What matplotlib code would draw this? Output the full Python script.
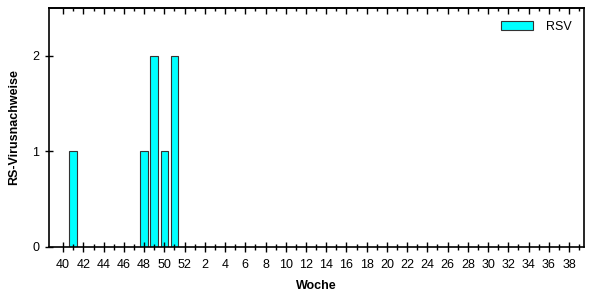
import matplotlib.pyplot as plt
from matplotlib.ticker import FixedLocator

plt.rcParams['font.family'] = ['Liberation Sans', 'DejaVu Sans']

weeks = list(range(40, 53)) + list(range(1, 40))
rsv = [0, 1, 0, 0, 0, 0, 0, 0, 1, 2, 1, 2, 0] + [0] * 39

fig = plt.figure(figsize=(6.02, 3.0), dpi=100)
ax = fig.add_axes([0.0814, 0.177, 0.889, 0.796])

x = list(range(len(weeks)))
ax.bar(x, rsv, width=0.75, color='#00FFFF', edgecolor='#333333', linewidth=0.8, label='RSV')

ax.set_xlim(-1.4, 51.5)
ax.set_ylim(0, 2.5)

major = [i for i, w in enumerate(weeks) if w % 2 == 0]
minor = [i for i, w in enumerate(weeks) if w % 2 == 1]
ax.xaxis.set_major_locator(FixedLocator(major))
ax.xaxis.set_minor_locator(FixedLocator(minor))
ax.set_xticklabels([str(weeks[i]) for i in major])
ax.set_yticks([0, 1, 2])

ax.tick_params(axis='x', which='major', direction='inout', length=7, width=1,
               labelsize=9, pad=5)
ax.tick_params(axis='x', which='minor', direction='inout', length=4, width=1)
ax.tick_params(axis='y', which='major', direction='inout', length=6, width=1,
               labelsize=9, pad=4)

# ticks along the top edge point inwards only
top = ax.secondary_xaxis('top')
top.xaxis.set_major_locator(FixedLocator(major))
top.xaxis.set_minor_locator(FixedLocator(minor))
top.tick_params(which='major', direction='in', length=4, width=1, labeltop=False)
top.tick_params(which='minor', direction='in', length=2, width=1)
top.spines['top'].set_linewidth(1.2)

for s in ax.spines.values():
    s.set_linewidth(1.2)

ax.set_xlabel('Woche', fontsize=9, fontweight='bold', labelpad=7)
ax.set_ylabel('RS-Virusnachweise', fontsize=9, fontweight='bold', labelpad=9)

ax.legend(loc='upper right', frameon=False, fontsize=9, handlelength=2.6,
          handleheight=0.8, handletextpad=1.0, borderaxespad=0.6)

fig.savefig('out.png', dpi=100)
